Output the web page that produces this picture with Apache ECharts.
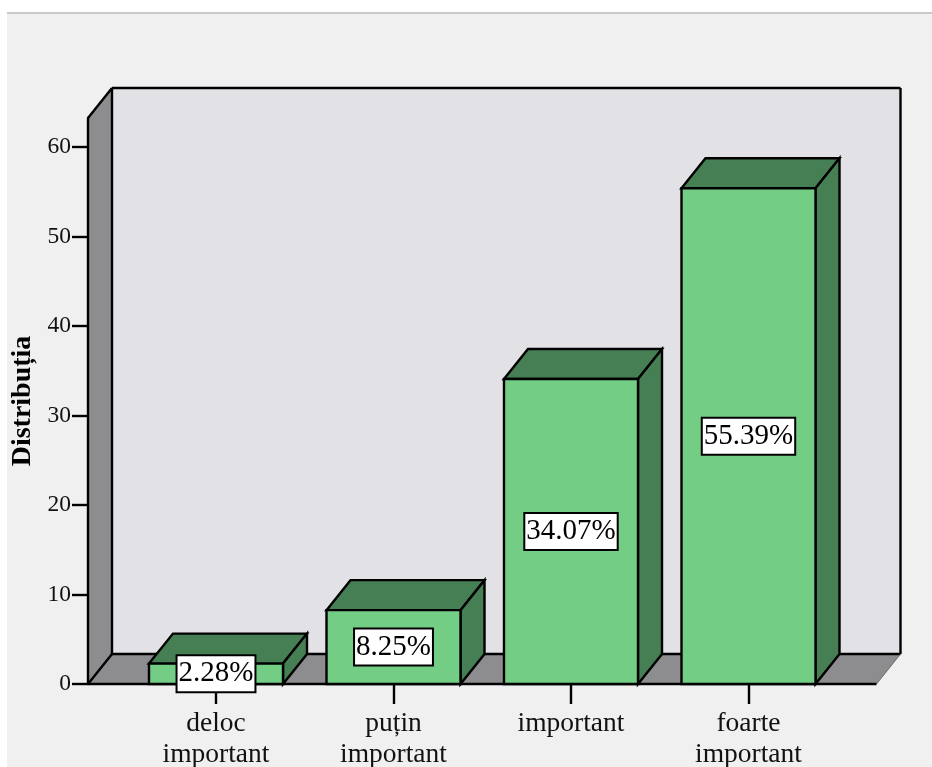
<!DOCTYPE html>
<html>
<head>
<meta charset="utf-8">
<script src="https://cdn.jsdelivr.net/npm/echarts@6/dist/echarts.min.js"></script>
<style>
html,body{margin:0;padding:0;background:#fff;width:932px;height:767px;overflow:hidden}
#bg{position:absolute;left:7px;top:13px;width:925px;height:754px;background:#f0f0f0}
#rule{position:absolute;left:7px;top:12px;width:925px;height:2px;background:#c9c9c9}
#main{position:absolute;left:0;top:0;width:932px;height:767px}
</style>
</head>
<body>
<div id="bg"></div><div id="rule"></div>
<div id="main"></div>
<script>
const categories = ['deloc\nimportant', 'puțin\nimportant', 'important', 'foarte\nimportant'];
const values = [2.28, 8.25, 34.07, 55.39];
const yTicks = [0, 10, 20, 30, 40, 50, 60];
const yMax = 63.24;
const axisTitle = 'Distribuția';

const FONT = '"Liberation Serif", "Times New Roman", serif';
const DX = 24, DY = -30, PAD = 39.25, BAR_RATIO = 0.755;
const C = {wall:'#e2e1e6', side:'#8d8c8e', front:'#73cd85', dark:'#477f55', line:'#000'};
const LW = 2.4;

function poly(points, fill, z2) {
  return {type:'polygon', z2: z2 || 0, shape:{points},
    style:{fill, stroke:C.line, lineWidth:LW, lineJoin:'miter'}};
}
function seg(x1,y1,x2,y2,color,w,z2){
  return {type:'line', z2: z2 || 5, shape:{x1,y1,x2,y2}, style:{stroke:color,lineWidth:w}};
}

function renderWalls(params, api) {
  const cs = params.coordSys;
  const L = cs.x - PAD, R = cs.x + cs.width + PAD;
  const y0 = api.coord([0, 0])[1], yT = api.coord([0, yMax])[1];
  const noStroke = (points, fill) => ({type:'polygon', shape:{points}, style:{fill, stroke:null}});
  return {type:'group', children:[
    noStroke([[L+DX,yT+DY],[R+DX,yT+DY],[R+DX,y0+DY],[L+DX,y0+DY]], C.wall),
    noStroke([[L,yT],[L+DX,yT+DY],[L+DX,y0+DY],[L,y0]], C.side),
    noStroke([[L,y0],[L+DX,y0+DY],[R+DX,y0+DY],[R,y0]], C.side),
    seg(L+DX,yT+DY,R+DX,yT+DY,C.line,LW),
    seg(R+DX,yT+DY,R+DX,y0+DY,C.line,LW),
    seg(L+DX,yT+DY,L+DX,y0+DY,C.line,LW),
    seg(L,yT,L+DX,yT+DY,C.line,LW),
    seg(L,y0,L+DX,y0+DY,C.line,LW),
    seg(L+DX,y0+DY,R+DX,y0+DY,C.line,LW),
    seg(R,y0,R+DX,y0+DY,'#6a6a6a',1),
    seg(L,y0,R,y0,C.line,LW)
  ]};
}

function renderBar(params, api) {
  const i = api.value(0), v = api.value(1);
  const top = api.coord([i, v]), base = api.coord([i, 0]);
  const w = api.size([1, 0])[0] * BAR_RATIO;
  const l = top[0] - w / 2, r = top[0] + w / 2, t = top[1], b = base[1];
  return {type:'group', children:[
    poly([[l,t],[l+DX,t+DY],[r+DX,t+DY],[r,t]], C.dark),
    poly([[r,t],[r+DX,t+DY],[r+DX,b+DY],[r,b]], C.dark),
    poly([[l,t],[r,t],[r,b],[l,b]], C.front),
    {type:'text', z2:10, style:{
      text: v.toFixed(2) + '%', x:(l+r)/2, y:(t+b)/2, align:'center', verticalAlign:'middle',
      fill:'#000', font:'29px ' + FONT, backgroundColor:'#fff', borderColor:'#000', borderWidth:2,
      padding:[6,1,0,1]
    }}
  ]};
}

const chart = echarts.init(document.getElementById('main'), null, {renderer:'canvas', width:932, height:767});
chart.setOption({
  animation:false,
  backgroundColor:'transparent',
  grid:{left:127.25, top:118, width:710, height:566, containLabel:false, outerBoundsMode:'none'},
  xAxis:{
    type:'category', data:categories, boundaryGap:true,
    axisLine:{show:false},
    axisTick:{show:true, alignWithLabel:true, length:20, lineStyle:{color:'#000', width:2.4}},
    axisLabel:{interval:0, margin:24, color:'#111', fontFamily:FONT, fontSize:27.5, lineHeight:31, align:'center'},
    splitLine:{show:false}
  },
  yAxis:{
    type:'value', min:0, max:yMax, offset:PAD, z:3,
    name:axisTitle, nameLocation:'middle', nameRotate:90, nameGap:47,
    nameTextStyle:{color:'#000', fontFamily:FONT, fontWeight:'bold', fontSize:28},
    axisLine:{show:true, lineStyle:{color:'#000', width:2.4}},
    axisTick:{show:true, length:16, lineStyle:{color:'#000', width:2.4}, customValues:yTicks},
    axisLabel:{color:'#111', fontFamily:FONT, fontSize:23.5, margin:17, padding:[6,0,0,0], customValues:yTicks},
    splitLine:{show:false}
  },
  series:[
    {type:'custom', z:1, silent:true, renderItem:renderWalls, data:[[0, yMax]], encode:{x:0, y:1}},
    {type:'custom', z:2, renderItem:renderBar, data:values.map((v,i)=>[i,v]), encode:{x:0, y:1}}
  ]
});
</script>
</body>
</html>
